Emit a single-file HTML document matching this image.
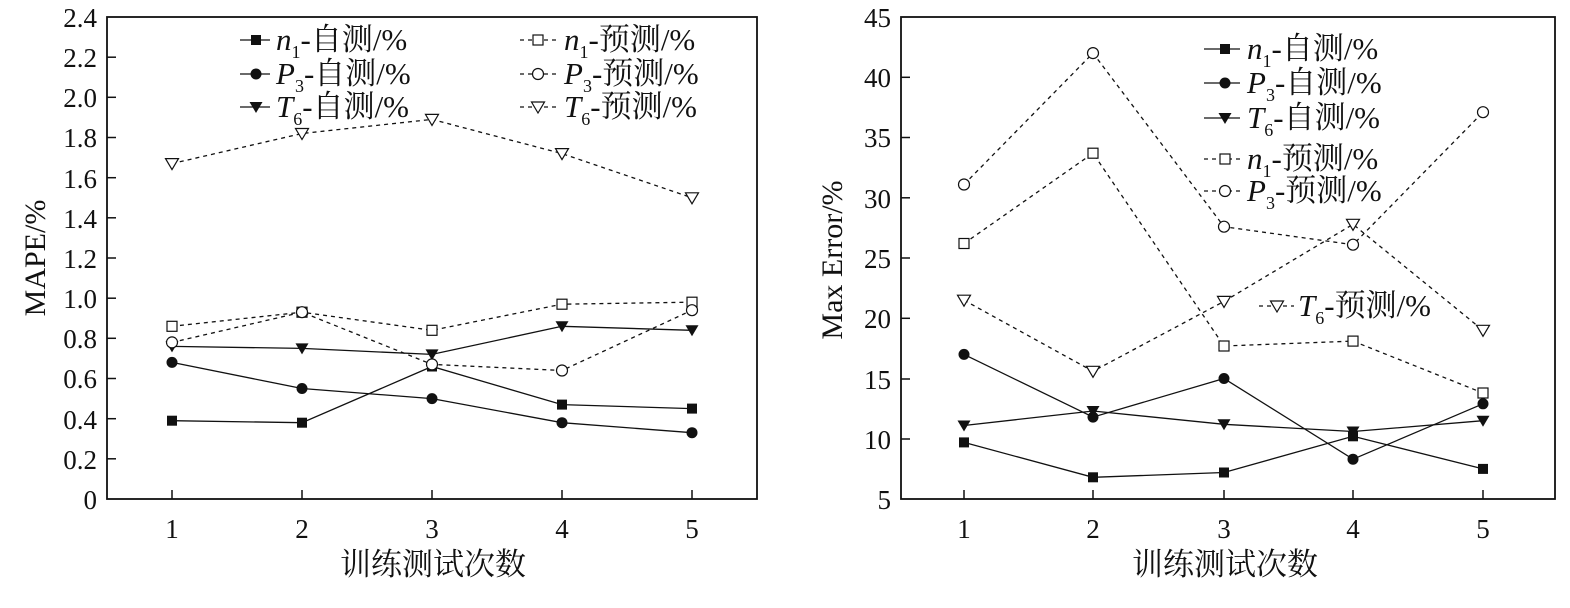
<!DOCTYPE html>
<html><head><meta charset="utf-8"><style>
html,body{margin:0;padding:0;background:#fff}
svg{display:block}
text{font-family:"Liberation Serif","Noto Serif CJK SC","Noto Sans CJK SC",serif;fill:#111}
</style></head><body>
<svg width="1570" height="608" viewBox="0 0 1570 608" xmlns="http://www.w3.org/2000/svg">
<defs>
<rect id="sq" x="-5" y="-5" width="10" height="10" fill="#111"/>
<circle id="ci" r="5.5" fill="#111"/>
<path id="tr" d="M-6.5,-5 L6.5,-5 L0,6 Z" fill="#111"/>
<rect id="sqo" x="-5" y="-5" width="10" height="10" fill="#fff" stroke="#111" stroke-width="1.2"/>
<circle id="cio" r="5.5" fill="#fff" stroke="#111" stroke-width="1.2"/>
<path id="tro" d="M-6.5,-5 L6.5,-5 L0,6 Z" fill="#fff" stroke="#111" stroke-width="1.2"/>
</defs>

<!-- LEFT CHART -->
<rect x="107" y="17" width="650" height="482" fill="none" stroke="#111" stroke-width="1.8"/>
<g stroke="#111" stroke-width="1.5">
<line x1="107" y1="458.8" x2="116" y2="458.8"/><line x1="107" y1="418.7" x2="116" y2="418.7"/><line x1="107" y1="378.5" x2="116" y2="378.5"/><line x1="107" y1="338.3" x2="116" y2="338.3"/><line x1="107" y1="298.2" x2="116" y2="298.2"/><line x1="107" y1="258" x2="116" y2="258"/><line x1="107" y1="217.8" x2="116" y2="217.8"/><line x1="107" y1="177.7" x2="116" y2="177.7"/><line x1="107" y1="137.5" x2="116" y2="137.5"/><line x1="107" y1="97.3" x2="116" y2="97.3"/><line x1="107" y1="57.2" x2="116" y2="57.2"/>
<line x1="172" y1="499" x2="172" y2="490"/><line x1="302" y1="499" x2="302" y2="490"/><line x1="432" y1="499" x2="432" y2="490"/><line x1="562" y1="499" x2="562" y2="490"/><line x1="692" y1="499" x2="692" y2="490"/>
</g>
<g font-size="27" text-anchor="end">
<text x="97" y="509">0</text><text x="97" y="469">0.2</text><text x="97" y="429">0.4</text><text x="97" y="388">0.6</text><text x="97" y="348">0.8</text><text x="97" y="308">1.0</text><text x="97" y="268">1.2</text><text x="97" y="228">1.4</text><text x="97" y="188">1.6</text><text x="97" y="147">1.8</text><text x="97" y="107">2.0</text><text x="97" y="67">2.2</text><text x="97" y="27">2.4</text>
</g>
<g font-size="27" text-anchor="middle">
<text x="172" y="538">1</text><text x="302" y="538">2</text><text x="432" y="538">3</text><text x="562" y="538">4</text><text x="692" y="538">5</text>
</g>
<text font-size="31" text-anchor="middle" x="433" y="575">训练测试次数</text>
<text font-size="30" text-anchor="middle" transform="translate(45,258) rotate(-90)">MAPE/%</text>

<g fill="none" stroke="#111" stroke-width="1.3">
<polyline points="172,420.7 302,422.7 432,366.5 562,404.6 692,408.6"/>
<polyline points="172,362.4 302,388.5 432,398.6 562,422.7 692,432.7"/>
<polyline points="172,346.4 302,348.4 432,354.4 562,326.3 692,330.3"/>
<g stroke-dasharray="4,4">
<polyline points="172,326.3 302,312.2 432,330.3 562,304.2 692,302.2"/>
<polyline points="172,342.4 302,312.2 432,364.4 562,370.5 692,310.2"/>
<polyline points="172,163.6 302,133.5 432,119.4 562,153.6 692,197.8"/>
</g></g>
<use href="#sq" x="172" y="420.7"/><use href="#sq" x="302" y="422.7"/><use href="#sq" x="432" y="366.5"/><use href="#sq" x="562" y="404.6"/><use href="#sq" x="692" y="408.6"/>
<use href="#ci" x="172" y="362.4"/><use href="#ci" x="302" y="388.5"/><use href="#ci" x="432" y="398.6"/><use href="#ci" x="562" y="422.7"/><use href="#ci" x="692" y="432.7"/>
<use href="#tr" x="172" y="346.4"/><use href="#tr" x="302" y="348.4"/><use href="#tr" x="432" y="354.4"/><use href="#tr" x="562" y="326.3"/><use href="#tr" x="692" y="330.3"/>
<use href="#sqo" x="172" y="326.3"/><use href="#sqo" x="302" y="312.2"/><use href="#sqo" x="432" y="330.3"/><use href="#sqo" x="562" y="304.2"/><use href="#sqo" x="692" y="302.2"/>
<use href="#cio" x="172" y="342.4"/><use href="#cio" x="302" y="312.2"/><use href="#cio" x="432" y="364.4"/><use href="#cio" x="562" y="370.5"/><use href="#cio" x="692" y="310.2"/>
<use href="#tro" x="172" y="163.6"/><use href="#tro" x="302" y="133.5"/><use href="#tro" x="432" y="119.4"/><use href="#tro" x="562" y="153.6"/><use href="#tro" x="692" y="197.8"/>

<!-- left legend -->
<g stroke="#111" stroke-width="1.3">
<line x1="240" y1="40" x2="270" y2="40"/><line x1="240" y1="74" x2="270" y2="74"/><line x1="240" y1="107" x2="270" y2="107"/>
<line x1="520" y1="40" x2="556" y2="40" stroke-dasharray="4,4"/><line x1="520" y1="74" x2="556" y2="74" stroke-dasharray="4,4"/><line x1="520" y1="107" x2="556" y2="107" stroke-dasharray="4,4"/>
</g>
<use href="#sq" x="256" y="40"/><use href="#ci" x="256" y="74"/><use href="#tr" x="256" y="107"/>
<use href="#sqo" x="538" y="40"/><use href="#cio" x="538" y="74"/><use href="#tro" x="538" y="107"/>
<g font-size="31">
<text x="276" y="50"><tspan font-style="italic">n</tspan><tspan font-size="18" dy="8">1</tspan><tspan dy="-8">-自测/%</tspan></text>
<text x="276" y="84"><tspan font-style="italic">P</tspan><tspan font-size="18" dy="8">3</tspan><tspan dy="-8">-自测/%</tspan></text>
<text x="276" y="117"><tspan font-style="italic">T</tspan><tspan font-size="18" dy="8">6</tspan><tspan dy="-8">-自测/%</tspan></text>
<text x="564" y="50"><tspan font-style="italic">n</tspan><tspan font-size="18" dy="8">1</tspan><tspan dy="-8">-预测/%</tspan></text>
<text x="564" y="84"><tspan font-style="italic">P</tspan><tspan font-size="18" dy="8">3</tspan><tspan dy="-8">-预测/%</tspan></text>
<text x="564" y="117"><tspan font-style="italic">T</tspan><tspan font-size="18" dy="8">6</tspan><tspan dy="-8">-预测/%</tspan></text>
</g>

<!-- RIGHT CHART -->
<rect x="901" y="17" width="654" height="482" fill="none" stroke="#111" stroke-width="1.8"/>
<g stroke="#111" stroke-width="1.5">
<line x1="901" y1="439" x2="910" y2="439"/><line x1="901" y1="379" x2="910" y2="379"/><line x1="901" y1="318.3" x2="910" y2="318.3"/><line x1="901" y1="258" x2="910" y2="258"/><line x1="901" y1="197.8" x2="910" y2="197.8"/><line x1="901" y1="137.5" x2="910" y2="137.5"/><line x1="901" y1="77.3" x2="910" y2="77.3"/>
<line x1="964" y1="499" x2="964" y2="490"/><line x1="1093" y1="499" x2="1093" y2="490"/><line x1="1224" y1="499" x2="1224" y2="490"/><line x1="1353" y1="499" x2="1353" y2="490"/><line x1="1483" y1="499" x2="1483" y2="490"/>
</g>
<g font-size="27" text-anchor="end">
<text x="891" y="509">5</text><text x="891" y="449">10</text><text x="891" y="389">15</text><text x="891" y="328">20</text><text x="891" y="268">25</text><text x="891" y="208">30</text><text x="891" y="147">35</text><text x="891" y="87">40</text><text x="891" y="27">45</text>
</g>
<g font-size="27" text-anchor="middle">
<text x="964" y="538">1</text><text x="1093" y="538">2</text><text x="1224" y="538">3</text><text x="1353" y="538">4</text><text x="1483" y="538">5</text>
</g>
<text font-size="31" text-anchor="middle" x="1225" y="575">训练测试次数</text>
<text font-size="30" text-anchor="middle" transform="translate(842,260) rotate(-90)">Max Error/%</text>

<g fill="none" stroke="#111" stroke-width="1.3">
<polyline points="964,442.4 1093,477.3 1224,472.5 1353,436.3 1483,468.9"/>
<polyline points="964,354.4 1093,417.1 1224,378.5 1353,459.2 1483,403.8"/>
<polyline points="964,425.5 1093,411 1224,424.3 1353,431.5 1483,420.7"/>
<g stroke-dasharray="4,4">
<polyline points="964,243.5 1093,153.2 1224,346 1353,341.1 1483,393"/>
<polyline points="964,184.5 1093,53.1 1224,226.7 1353,244.7 1483,112.2"/>
<polyline points="964,300.2 1093,371.3 1224,301.4 1353,224.3 1483,330.3"/>
</g></g>
<use href="#sq" x="964" y="442.4"/><use href="#sq" x="1093" y="477.3"/><use href="#sq" x="1224" y="472.5"/><use href="#sq" x="1353" y="436.3"/><use href="#sq" x="1483" y="468.9"/>
<use href="#ci" x="964" y="354.4"/><use href="#ci" x="1093" y="417.1"/><use href="#ci" x="1224" y="378.5"/><use href="#ci" x="1353" y="459.2"/><use href="#ci" x="1483" y="403.8"/>
<use href="#tr" x="964" y="425.5"/><use href="#tr" x="1093" y="411"/><use href="#tr" x="1224" y="424.3"/><use href="#tr" x="1353" y="431.5"/><use href="#tr" x="1483" y="420.7"/>
<use href="#sqo" x="964" y="243.5"/><use href="#sqo" x="1093" y="153.2"/><use href="#sqo" x="1224" y="346"/><use href="#sqo" x="1353" y="341.1"/><use href="#sqo" x="1483" y="393"/>
<use href="#cio" x="964" y="184.5"/><use href="#cio" x="1093" y="53.1"/><use href="#cio" x="1224" y="226.7"/><use href="#cio" x="1353" y="244.7"/><use href="#cio" x="1483" y="112.2"/>
<use href="#tro" x="964" y="300.2"/><use href="#tro" x="1093" y="371.3"/><use href="#tro" x="1224" y="301.4"/><use href="#tro" x="1353" y="224.3"/><use href="#tro" x="1483" y="330.3"/>

<!-- right legend -->
<g stroke="#111" stroke-width="1.3">
<line x1="1204" y1="49" x2="1240" y2="49"/><line x1="1204" y1="83" x2="1240" y2="83"/><line x1="1204" y1="118" x2="1240" y2="118"/>
<line x1="1204" y1="159" x2="1240" y2="159" stroke-dasharray="4,4"/><line x1="1204" y1="191" x2="1240" y2="191" stroke-dasharray="4,4"/><line x1="1259" y1="306" x2="1294" y2="306" stroke-dasharray="4,4"/>
</g>
<use href="#sq" x="1225" y="49"/><use href="#ci" x="1225" y="83"/><use href="#tr" x="1225" y="118"/>
<use href="#sqo" x="1225" y="159"/><use href="#cio" x="1225" y="191"/><use href="#tro" x="1277" y="306"/>
<g font-size="31">
<text x="1247" y="59"><tspan font-style="italic">n</tspan><tspan font-size="18" dy="8">1</tspan><tspan dy="-8">-自测/%</tspan></text>
<text x="1247" y="93"><tspan font-style="italic">P</tspan><tspan font-size="18" dy="8">3</tspan><tspan dy="-8">-自测/%</tspan></text>
<text x="1247" y="128"><tspan font-style="italic">T</tspan><tspan font-size="18" dy="8">6</tspan><tspan dy="-8">-自测/%</tspan></text>
<text x="1247" y="169"><tspan font-style="italic">n</tspan><tspan font-size="18" dy="8">1</tspan><tspan dy="-8">-预测/%</tspan></text>
<text x="1247" y="201"><tspan font-style="italic">P</tspan><tspan font-size="18" dy="8">3</tspan><tspan dy="-8">-预测/%</tspan></text>
<text x="1298" y="316"><tspan font-style="italic">T</tspan><tspan font-size="18" dy="8">6</tspan><tspan dy="-8">-预测/%</tspan></text>
</g>
</svg>
</body></html>
